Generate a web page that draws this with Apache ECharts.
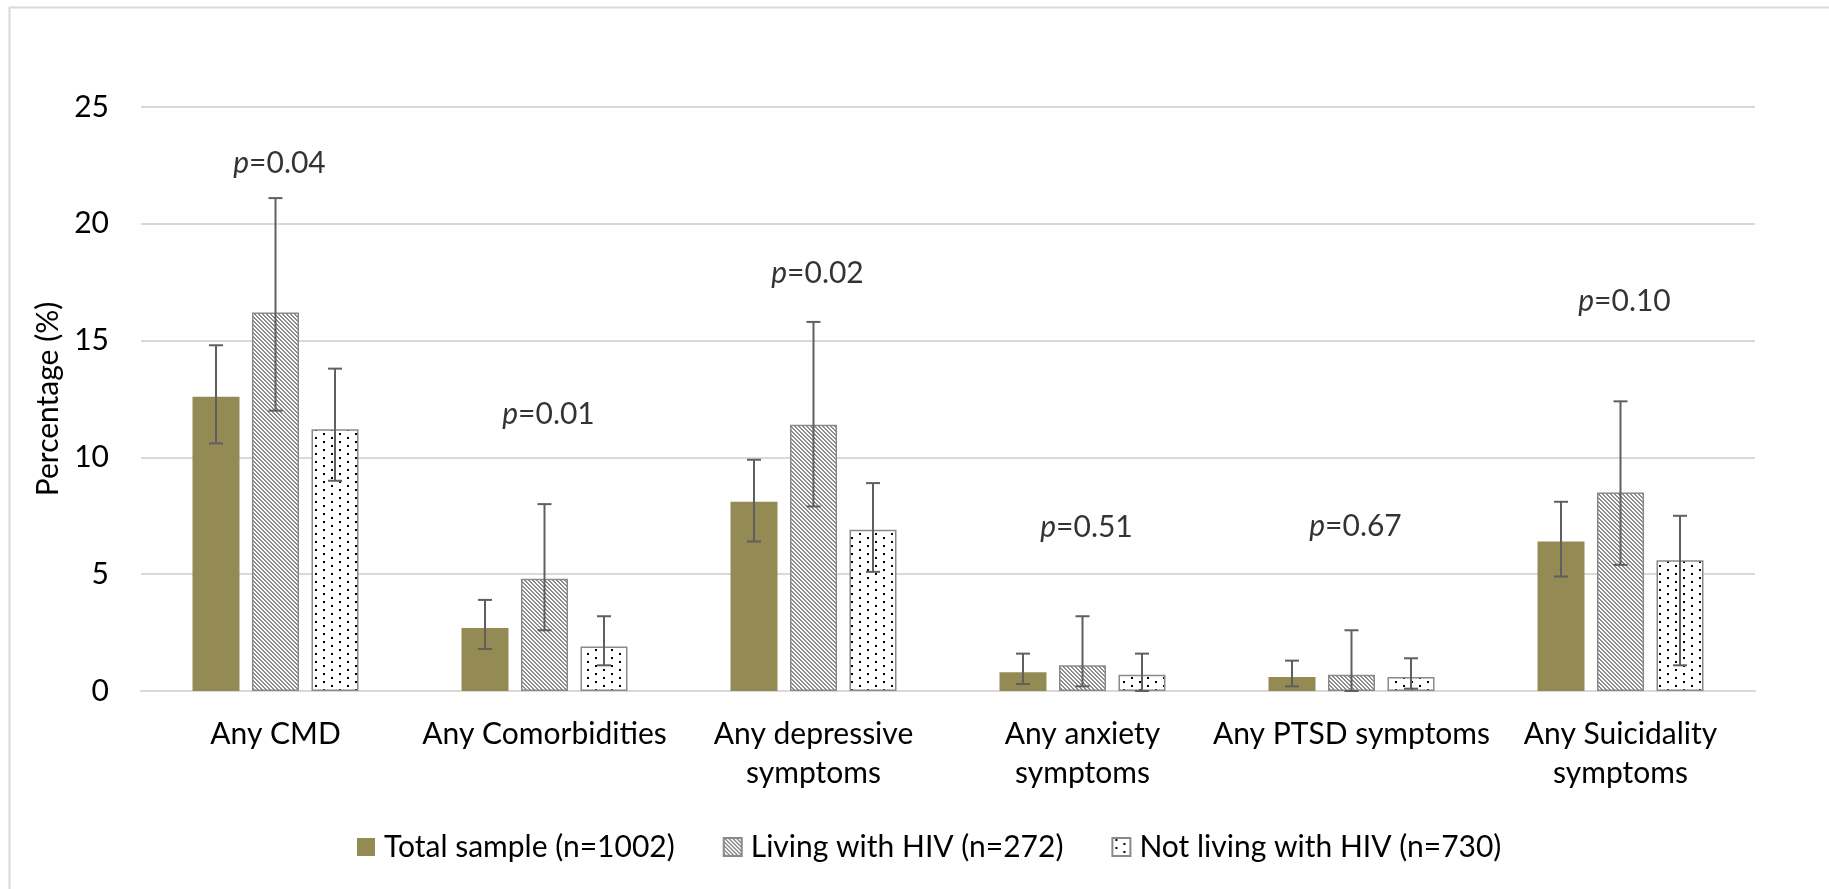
<!DOCTYPE html>
<html>
<head>
<meta charset="utf-8">
<script src="https://cdn.jsdelivr.net/npm/echarts@6/dist/echarts.min.js"></script>
<style>
html,body{margin:0;padding:0;background:#fff;}
#chart{width:1829px;height:889px;}
</style>
</head>
<body>
<div id="chart"></div>
<script>
// ---- data ----
const categories = ['Any CMD', 'Any Comorbidities', 'Any depressive\nsymptoms', 'Any anxiety\nsymptoms', 'Any PTSD symptoms', 'Any Suicidality\nsymptoms'];
const seriesNames = ['Total sample (n=1002)', 'Living with HIV (n=272)', 'Not living with HIV (n=730)'];
const totalVals = [12.6, 2.7, 8.1, 0.8, 0.6, 6.4];
const totalLow  = [10.6, 1.8, 6.4, 0.3, 0.2, 4.9];
const totalHigh = [14.8, 3.9, 9.9, 1.6, 1.3, 8.1];
const hivVals   = [16.2, 4.8, 11.4, 1.1, 0.7, 8.5];
const hivLow    = [12.0, 2.6, 7.9, 0.2, 0.0, 5.4];
const hivHigh   = [21.1, 8.0, 15.8, 3.2, 2.6, 12.4];
const notVals   = [11.2, 1.9, 6.9, 0.7, 0.6, 5.6];
const notLow    = [9.0, 1.1, 5.1, 0.0, 0.1, 1.1];
const notHigh   = [13.8, 3.2, 8.9, 1.6, 1.4, 7.5];
const pValues   = ['0.04', '0.01', '0.02', '0.51', '0.67', '0.10'];
const pLabelY   = [22.6, 11.85, 17.9, 7.0, 7.05, 16.7];
const yTicks = {min: 0, max: 25, interval: 5};

// ---- styles ----
const FONT = 'Lato';
const FS = 30;
const BAR_W = 47;
const GAP_PX = 12.5;

function hatchPattern() {
  const c = document.createElement('canvas');
  c.width = 4; c.height = 4;
  const g = c.getContext('2d');
  g.fillStyle = '#ffffff'; g.fillRect(0, 0, 4, 4);
  g.fillStyle = '#8c8c8c';
  for (let y = 0; y < 4; y++) for (let x = 0; x < 4; x++) {
    if ((((x - y) % 4) + 4) % 4 < 2) g.fillRect(x, y, 1, 1);
  }
  return c;
}
function dotPattern() {
  const c = document.createElement('canvas');
  c.width = 16; c.height = 8;
  const g = c.getContext('2d');
  g.fillStyle = '#ffffff'; g.fillRect(0, 0, 16, 8);
  g.fillStyle = '#000000';
  g.fillRect(3, 1, 2, 2);
  g.fillRect(11, 5, 2, 2);
  return c;
}

const barStyles = [
  {color: '#948A54'},
  {color: {image: hatchPattern(), repeat: 'repeat'}, borderColor: '#8a8a8a', borderWidth: 1.5},
  {color: {image: dotPattern(), repeat: 'repeat'}, borderColor: '#8a8a8a', borderWidth: 1.5}
];
const barData = [totalVals, hivVals, notVals];
const lows = [totalLow, hivLow, notLow];
const highs = [totalHigh, hivHigh, notHigh];

const series = [];
for (let k = 0; k < 3; k++) {
  series.push({
    name: seriesNames[k],
    type: 'bar',
    barWidth: BAR_W,
    barGap: (GAP_PX / BAR_W * 100).toFixed(1) + '%',
    itemStyle: barStyles[k],
    data: barData[k],
    silent: true,
    z: 2
  });
}
for (let k = 0; k < 3; k++) {
  const offset = (k - 1) * (BAR_W + GAP_PX);
  series.push({
    type: 'custom',
    name: 'err' + k,
    silent: true,
    z: 5,
    data: categories.map((c, i) => [i, lows[k][i], highs[k][i]]),
    renderItem: function (params, api) {
      const i = api.value(0);
      const lo = api.coord([i, api.value(1)]);
      const hi = api.coord([i, api.value(2)]);
      const x = lo[0] + offset;
      const st = {stroke: '#5f5f5f', lineWidth: 2};
      return {
        type: 'group',
        children: [
          {type: 'line', shape: {x1: x, y1: lo[1], x2: x, y2: hi[1]}, style: st},
          {type: 'line', shape: {x1: x - 7, y1: hi[1], x2: x + 7, y2: hi[1]}, style: st},
          {type: 'line', shape: {x1: x - 7, y1: lo[1], x2: x + 7, y2: lo[1]}, style: st}
        ]
      };
    }
  });
}
series.push({
  type: 'scatter',
  name: 'pvals',
  silent: true,
  symbolSize: 0,
  z: 6,
  data: categories.map((c, i) => [i, pLabelY[i]]),
  label: {
    show: true,
    position: 'inside',
    offset: [4, 0],
    formatter: function (p) { return '{i|p}{n|=' + pValues[p.dataIndex] + '}'; },
    rich: {
      i: {fontStyle: 'italic', fontFamily: FONT, fontSize: FS, color: '#000'},
      n: {fontFamily: FONT, fontSize: FS, color: '#000'}
    }
  }
});

const chart = echarts.init(document.getElementById('chart'), null, {renderer: 'canvas'});
chart.setOption({
  backgroundColor: '#ffffff',
  animation: false,
  textStyle: {fontFamily: FONT},
  graphic: [{
    type: 'rect', left: 7, top: 5, silent: true,
    shape: {width: 1840, height: 900},
    style: {fill: 'none', stroke: '#d9d9d9', lineWidth: 2}
  }],
  grid: {left: 141, right: 74, top: 107, bottom: 198},
  legend: {
    data: seriesNames,
    left: 357,
    top: 832,
    padding: 0,
    itemWidth: 18,
    itemHeight: 18,
    itemGap: 48,
    icon: 'rect',
    textStyle: {fontFamily: FONT, fontSize: FS, color: '#000', padding: [0, 0, 0, 4]}
  },
  xAxis: {
    type: 'category',
    data: categories,
    axisTick: {show: false},
    axisLine: {lineStyle: {color: '#d9d9d9', width: 2}},
    axisLabel: {interval: 0, fontFamily: FONT, fontSize: FS, lineHeight: 39, color: '#000', margin: 24}
  },
  yAxis: {
    type: 'value',
    min: yTicks.min, max: yTicks.max, interval: yTicks.interval,
    name: 'Percentage (%)',
    nameLocation: 'middle',
    nameGap: 72,
    nameTextStyle: {fontFamily: FONT, fontSize: FS, color: '#000'},
    axisLine: {show: false},
    axisTick: {show: false},
    axisLabel: {fontFamily: FONT, fontSize: FS, color: '#000', margin: 32},
    splitLine: {lineStyle: {color: '#d9d9d9', width: 2}}
  },
  series: series
});
</script>
</body>
</html>
